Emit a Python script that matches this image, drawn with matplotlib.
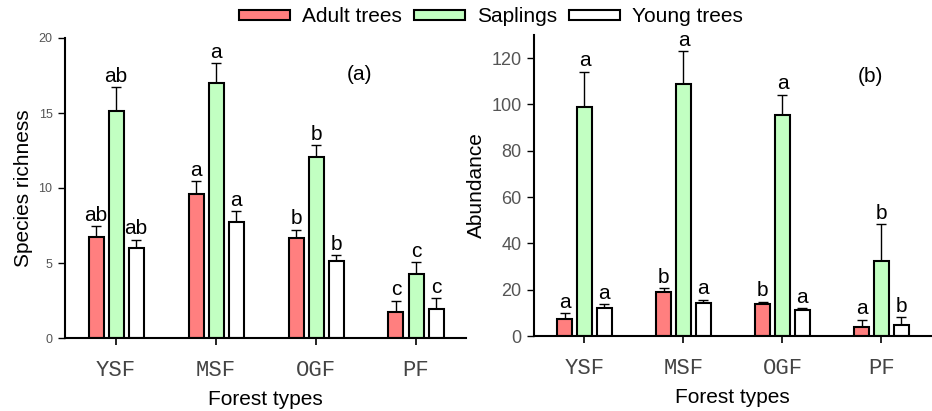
import matplotlib
matplotlib.use("Agg")
import matplotlib.pyplot as plt
import numpy as np
from matplotlib.patches import Patch

forest_types = ["YSF", "MSF", "OGF", "PF"]
series = ["Adult trees", "Saplings", "Young trees"]
colors = ["#FF7F7F", "#C2FFC2", "#FFFFFF"]

# Species richness (panel a)
rich_adult = [6.73, 9.6, 6.64, 1.71]
rich_sapl = [15.16, 16.98, 12.09, 4.29]
rich_young = [5.98, 7.76, 5.11, 1.96]
rich_adult_se = [0.74, 0.84, 0.58, 0.78]
rich_sapl_se = [1.57, 1.35, 0.75, 0.75]
rich_young_se = [0.58, 0.68, 0.40, 0.71]
rich_letters = [["ab", "a", "b", "c"], ["ab", "a", "b", "c"], ["ab", "a", "b", "c"]]

# Abundance (panel b)
ab_adult = [7.5, 18.9, 13.9, 4.0]
ab_sapl = [98.8, 108.7, 95.5, 32.3]
ab_young = [12.3, 14.3, 11.1, 4.8]
ab_adult_se = [2.3, 1.7, 1.0, 3.1]
ab_sapl_se = [15.4, 14.2, 8.8, 16.1]
ab_young_se = [1.4, 1.4, 0.9, 3.3]
ab_letters = [["a", "b", "b", "a"], ["a", "a", "a", "b"], ["a", "a", "a", "b"]]

fig = plt.figure(figsize=(9.32, 4.11), dpi=100)
axa = fig.add_axes([65/932, 1-338/411, (466-65)/932, 300/411])
axb = fig.add_axes([534/932, 1-336/411, (931-534)/932, 301/411])

sans = "Liberation Sans"
mono = "Liberation Mono"

def draw(ax, vals, ses, letters, ylim, yticks, tickfs, ylabel, tag, tagpos):
    x = np.arange(len(forest_types))
    offs = [-0.2, 0.0, 0.2]
    for i in range(3):
        ax.bar(x + offs[i], vals[i], width=0.15, color=colors[i],
               edgecolor="black", linewidth=1.5, zorder=2)
        ax.errorbar(x + offs[i], vals[i], yerr=[np.zeros(4), ses[i]],
                    fmt="none", ecolor="black", elinewidth=1.0,
                    capsize=3.5, capthick=1.0, zorder=1)
        for j in range(4):
            ax.annotate(letters[i][j], (x[j] + offs[i], vals[i][j] + ses[i][j]),
                        xytext=(0, 1), textcoords="offset points",
                        ha="center", va="bottom", fontsize=15, family=sans)
    ax.set_xlim(-0.51, 3.5)
    ax.set_ylim(*ylim)
    ax.set_yticks(yticks)
    ax.set_xticks(x)
    ax.set_xticklabels(forest_types, family=mono, fontsize=16, color="#444444")
    for lab in ax.get_yticklabels():
        lab.set_family(sans)
        lab.set_fontsize(tickfs)
        lab.set_color("#555555")
    ax.spines["top"].set_visible(False)
    ax.spines["right"].set_visible(False)
    ax.spines["left"].set_linewidth(1.5)
    ax.spines["bottom"].set_linewidth(1.5)
    ax.tick_params(axis="y", direction="out", length=5, width=1, pad=4)
    ax.tick_params(axis="x", direction="out", length=5, width=1.2, pad=11)
    ax.set_xlabel("Forest types", family=sans, fontsize=15, labelpad=6)
    ax.set_ylabel(ylabel, family=sans, fontsize=15, labelpad=4)
    ax.text(tagpos[0], tagpos[1], tag, transform=ax.transAxes, ha="center",
            va="center", fontsize=15, family=sans)

draw(axa, [rich_adult, rich_sapl, rich_young],
     [rich_adult_se, rich_sapl_se, rich_young_se], rich_letters,
     (0, 20), [0, 5, 10, 15, 20], 9, "Species richness", "(a)",
     ((360-65)/401, 1-(74-38)/300))
draw(axb, [ab_adult, ab_sapl, ab_young],
     [ab_adult_se, ab_sapl_se, ab_young_se], ab_letters,
     (0, 130), [0, 20, 40, 60, 80, 100, 120], 13, "Abundance", "(b)",
     ((870-534)/397, 1-(77-35)/301))

handles = [Patch(facecolor=c, edgecolor="black", linewidth=1.5) for c in colors]
fig.legend(handles, series, loc="center", bbox_to_anchor=(491/932, 1-17/411),
           ncol=3, frameon=False, prop={"family": sans, "size": 15},
           handlelength=2.45, handleheight=0.4, handletextpad=0.58,
           columnspacing=0.58, borderpad=0, borderaxespad=0)

fig.savefig("out.png", dpi=100)
